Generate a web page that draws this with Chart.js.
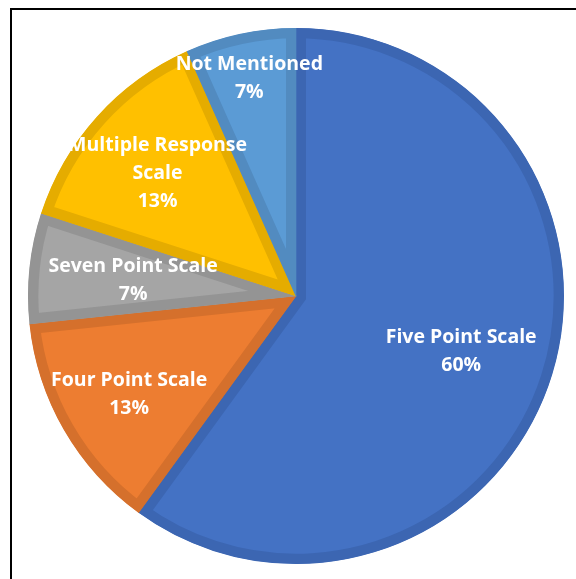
<!DOCTYPE html>
<html>
<head>
<meta charset="utf-8">
<script src="https://cdn.jsdelivr.net/npm/chart.js@4.4.1/dist/chart.umd.min.js"></script>
<style>
  html, body { margin: 0; padding: 0; background: #ffffff; overflow: hidden; }
  #wrap { position: relative; width: 576px; height: 579px; }
  #frame { position: absolute; left: 10px; top: 8px; width: 620px; height: 620px; border: 2px solid #000; box-sizing: border-box; }
  canvas { position: absolute; left: 0; top: 0; }
</style>
</head>
<body>
<div id="wrap">
  <div id="frame"></div>
  <canvas id="c" width="576" height="579"></canvas>
</div>
<script>
const categories = ["Five Point Scale", "Four Point Scale", "Seven Point Scale", "Multiple Response Scale", "Not Mentioned"];
const counts = [9, 2, 1, 2, 1];

const fillColors = ["#4472C4", "#ED7D31", "#A5A5A5", "#FFC000", "#5B9BD5"];
const edgeColors = ["#3C66B2", "#D5702C", "#949494", "#E5AC00", "#528BC0"];
const labelRadius = [0.648, 0.719, 0.611, 0.695, 0.838];

const pieLabels = {
  id: 'pieLabels',
  afterDatasetsDraw(chart, args, opts) {
    const ctx = chart.ctx;
    const meta = chart.getDatasetMeta(0);
    const data = chart.data.datasets[0].data;
    const total = data.reduce((a, b) => a + b, 0);
    ctx.save();
    ctx.fillStyle = '#ffffff';
    ctx.font = opts.font;
    ctx.textAlign = 'center';
    ctx.textBaseline = 'middle';
    meta.data.forEach((arc, i) => {
      const p = arc.getProps(['x', 'y', 'startAngle', 'endAngle', 'outerRadius'], true);
      const mid = (p.startAngle + p.endAngle) / 2;
      const r = p.outerRadius * opts.radius[i];
      const cx = p.x + Math.cos(mid) * r;
      const cy = p.y + Math.sin(mid) * r + opts.baselineShift;
      const words = chart.data.labels[i].split(' ');
      const lines = [];
      let cur = '';
      words.forEach(w => {
        const t = cur ? cur + ' ' + w : w;
        if (cur && ctx.measureText(t).width > opts.maxWidth) { lines.push(cur); cur = w; }
        else cur = t;
      });
      if (cur) lines.push(cur);
      lines.push(Math.round(data[i] / total * 100) + '%');
      const lh = opts.lineHeight;
      const y0 = cy - (lines.length - 1) * lh / 2;
      lines.forEach((ln, k) => ctx.fillText(ln, cx, y0 + k * lh));
    });
    ctx.restore();
  }
};

new Chart(document.getElementById('c'), {
  type: 'pie',
  data: {
    labels: categories,
    datasets: [{
      data: counts,
      backgroundColor: fillColors,
      borderColor: edgeColors,
      borderWidth: 10,
      borderAlign: 'inner',
      borderJoinStyle: 'miter',
      offset: 0,
      hoverOffset: 0
    }]
  },
  options: {
    responsive: false,
    animation: false,
    events: [],
    layout: { padding: { left: 28, right: 12, top: 28, bottom: 15 } },
    plugins: {
      legend: { display: false },
      tooltip: { enabled: false },
      pieLabels: {
        font: 'bold 19.5px "Open Sans"',
        lineHeight: 28,
        maxWidth: 190,
        baselineShift: 2,
        radius: labelRadius
      }
    }
  },
  plugins: [pieLabels]
});
</script>
</body>
</html>
